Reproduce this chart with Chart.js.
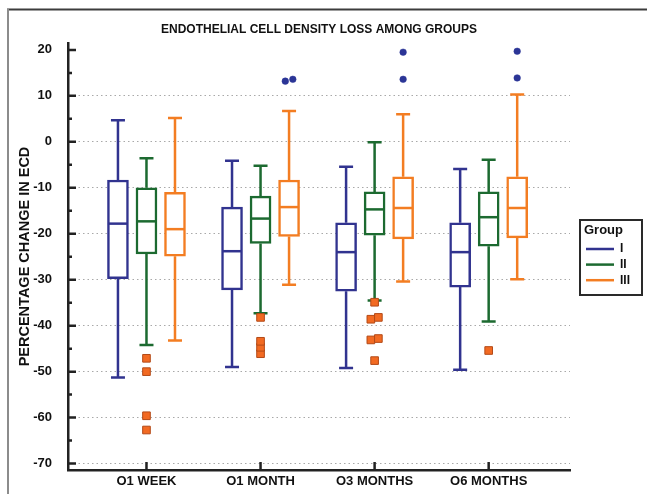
<!DOCTYPE html>
<html>
<head>
<meta charset="utf-8">
<script src="https://cdn.jsdelivr.net/npm/chart.js@4.4.1/dist/chart.umd.min.js"></script>
<style>
  html, body { margin: 0; padding: 0; background: #fff; }
  #wrap { width: 647px; height: 494px; position: relative; }
</style>
</head>
<body>
<div id="wrap"><canvas id="ecdChart"></canvas></div>
<script>
const categories = ['O1 WEEK', 'O1 MONTH', 'O3 MONTHS', 'O6 MONTHS'];
const groupNames = ['I', 'II', 'III'];
const groupColors = ['#31338f', '#1c6a30', '#f37d22'];

// each row: [min, q1, median, q3, max]
const groupI = [
    [-51.3, -29.8, -17.8, -8.3, 4.7],
    [-49.0, -32.2, -23.8, -14.2, -4.1],
    [-49.2, -32.5, -24.0, -17.6, -5.4],
    [-49.6, -31.6, -24.0, -17.6, -5.9]
];
const groupII = [
    [-44.2, -24.4, -17.3, -10.0, -3.6],
    [-37.3, -22.1, -16.7, -11.8, -5.2],
    [-34.5, -20.3, -14.7, -10.9, -0.1],
    [-39.1, -22.7, -16.4, -10.9, -3.9]
];
const groupIII = [
    [-43.2, -24.9, -19.0, -11.0, 5.2],
    [-31.1, -20.6, -14.2, -8.3, 6.7],
    [-30.4, -21.1, -14.4, -7.6, 6.0],
    [-29.9, -20.9, -14.4, -7.6, 10.3]
];

// outliers per category
const lowOutliersII = [
    [-47.1, -50.0, -59.6, -62.7],
    [-38.2, -43.4, -44.7, -46.1],
    [-34.9, -38.6, -38.2, -43.1, -42.8, -47.6],
    [-45.4]
];
const highOutliersIII = [
    [],
    [13.2, 13.6],
    [13.6, 19.5],
    [13.9, 19.7]
];

const yTicks = [-70, -60, -50, -40, -30, -20, -10, 0, 10, 20];
const yMin = -71.4, yMax = 21.5;

const groupOffsets = [-0.25, 0, 0.25];
const boxData = [groupI, groupII, groupIII];

// points that nearly coincide are put side by side
function dodge(values) {
    const sorted = [...values].sort((a, b) => a - b);
    const out = [];
    sorted.forEach(v => {
        const prev = out[out.length - 1];
        if (prev && prev.shift === 0 && Math.abs(v - prev.y) < 0.8) {
            prev.shift = -1;
            out.push({ y: v, shift: 1 });
        } else {
            out.push({ y: v, shift: 0 });
        }
    });
    return out;
}

function outlierPoints(list, g) {
    const pts = [];
    list.forEach((vals, i) => {
        dodge(vals).forEach(p => pts.push({ x: i + groupOffsets[g] + p.shift * 0.033, y: p.y }));
    });
    return pts;
}

const boxDatasets = boxData.map((rows, g) => ({
    type: 'bar',
    label: groupNames[g],
    data: rows.map((s, i) => ({ x: i + groupOffsets[g], y: [s[1], s[3]] })),
    backgroundColor: '#ffffff',
    borderColor: groupColors[g],
    borderWidth: 2.5,
    borderSkipped: false,
    barThickness: 21,
    grouped: false
}));

const boxExtras = {
    id: 'boxExtras',
    beforeDatasetsDraw(chart) {
        const { ctx, scales: { x, y } } = chart;
        ctx.save();
        ctx.lineWidth = 2.5;
        boxData.forEach((rows, g) => {
            ctx.strokeStyle = groupColors[g];
            rows.forEach((s, i) => {
                const cx = x.getPixelForValue(i + groupOffsets[g]);
                const yMn = y.getPixelForValue(s[0]);
                const yMx = y.getPixelForValue(s[4]);
                ctx.beginPath();
                ctx.moveTo(cx, y.getPixelForValue(s[3]));
                ctx.lineTo(cx, yMx);
                ctx.moveTo(cx - 7, yMx);
                ctx.lineTo(cx + 7, yMx);
                ctx.moveTo(cx, y.getPixelForValue(s[1]));
                ctx.lineTo(cx, yMn);
                ctx.moveTo(cx - 7, yMn);
                ctx.lineTo(cx + 7, yMn);
                ctx.stroke();
            });
        });
        ctx.restore();
    },
    afterDatasetsDraw(chart) {
        const { ctx, scales: { x, y } } = chart;
        ctx.save();
        ctx.lineWidth = 2.5;
        boxData.forEach((rows, g) => {
            ctx.strokeStyle = groupColors[g];
            rows.forEach((s, i) => {
                const cx = x.getPixelForValue(i + groupOffsets[g]);
                const my = y.getPixelForValue(s[2]);
                ctx.beginPath();
                ctx.moveTo(cx - 10, my);
                ctx.lineTo(cx + 10, my);
                ctx.stroke();
            });
        });
        ctx.restore();
    },
    afterDraw(chart) {
        const { ctx, chartArea, scales: { x, y } } = chart;
        ctx.save();
        // inward tick marks
        ctx.strokeStyle = '#222';
        ctx.lineWidth = 2.5;
        ctx.beginPath();
        yTicks.forEach(v => {
            const py = y.getPixelForValue(v);
            ctx.moveTo(chartArea.left, py);
            ctx.lineTo(chartArea.left + 8, py);
            if (v + 5 < yMax) {
                const pm = y.getPixelForValue(v + 5);
                ctx.moveTo(chartArea.left, pm);
                ctx.lineTo(chartArea.left + 4, pm);
            }
        });
        categories.forEach((c, i) => {
            const px = x.getPixelForValue(i);
            ctx.moveTo(px, chartArea.bottom);
            ctx.lineTo(px, chartArea.bottom - 8);
        });
        ctx.stroke();

        // frame of the figure
        ctx.lineWidth = 2;
        ctx.strokeStyle = '#3c3c3c';
        ctx.beginPath();
        ctx.moveTo(7, 9.5);
        ctx.lineTo(647, 9.5);
        ctx.stroke();
        ctx.strokeStyle = '#8c8c8c';
        ctx.beginPath();
        ctx.moveTo(8, 9);
        ctx.lineTo(8, 494);
        ctx.stroke();

        // legend
        const lx = 580, ly = 220, lw = 62, lh = 75;
        ctx.strokeStyle = '#2a2a2a';
        ctx.lineWidth = 2;
        ctx.strokeRect(lx, ly, lw, lh);
        ctx.fillStyle = '#111';
        ctx.textBaseline = 'middle';
        ctx.textAlign = 'left';
        ctx.font = 'bold 13px "Liberation Sans", Arial, sans-serif';
        ctx.fillText('Group', lx + 4, ly + 10);
        ctx.font = 'bold 12px "Liberation Sans", Arial, sans-serif';
        groupNames.forEach((name, g) => {
            const rowY = ly + 29 + g * 15.6;
            ctx.strokeStyle = groupColors[g];
            ctx.lineWidth = 2.5;
            ctx.beginPath();
            ctx.moveTo(lx + 6, rowY);
            ctx.lineTo(lx + 34, rowY);
            ctx.stroke();
            ctx.fillText(name, lx + 40, rowY);
        });
        ctx.restore();
    }
};

new Chart(document.getElementById('ecdChart'), {
    type: 'scatter',
    data: {
        datasets: [
            {
                label: 'low outliers',
                data: outlierPoints(lowOutliersII, 1),
                pointStyle: 'rect',
                pointRadius: 5.4,
                backgroundColor: '#f26a22',
                borderColor: '#b34a18',
                borderWidth: 1
            },
            {
                label: 'high outliers',
                data: outlierPoints(highOutliersIII, 2),
                pointStyle: 'circle',
                pointRadius: 3.3,
                backgroundColor: '#2b3596',
                borderColor: '#2b3596',
                borderWidth: 0.5
            },
            ...boxDatasets
        ]
    },
    options: {
        responsive: true,
        maintainAspectRatio: false,
        animation: false,
        events: [],
        layout: { padding: { left: 0, right: 77, top: 0, bottom: 0 } },
        plugins: {
            legend: { display: false },
            tooltip: { enabled: false },
            title: {
                display: true,
                fullSize: false,
                text: 'ENDOTHELIAL CELL DENSITY LOSS AMONG GROUPS',
                color: '#111',
                font: { family: '"Liberation Sans", Arial, sans-serif', size: 12, weight: 'bold' },
                padding: { top: 22, bottom: 6.6 }
            }
        },
        scales: {
            x: {
                type: 'linear',
                min: -0.688,
                max: 3.713,
                offset: false,
                afterFit: s => { s.height = 24; },
                afterBuildTicks: s => { s.ticks = categories.map((c, i) => ({ value: i })); },
                ticks: {
                    padding: 4,
                    color: '#111',
                    font: { family: '"Liberation Sans", Arial, sans-serif', size: 13, weight: 'bold' },
                    callback: v => categories[v]
                },
                grid: { display: false, drawTicks: false },
                border: { display: true, color: '#222', width: 2.5 }
            },
            y: {
                min: yMin,
                max: yMax,
                afterFit: s => { s.width = 68; },
                afterBuildTicks: s => { s.ticks = yTicks.map(v => ({ value: v })); },
                ticks: {
                    padding: 16,
                    color: '#111',
                    font: { family: '"Liberation Sans", Arial, sans-serif', size: 13, weight: 'bold' }
                },
                grid: {
                    drawTicks: false,
                    lineWidth: 1,
                    color: c => (c.tick && c.tick.value === 20) ? 'rgba(0,0,0,0)' : '#a9a9a9'
                },
                border: { display: true, color: '#222', width: 2.5, dash: [1.5, 3] },
                title: {
                    display: true,
                    text: 'PERCENTAGE CHANGE IN ECD',
                    color: '#111',
                    font: { family: '"Liberation Sans", Arial, sans-serif', size: 14.5, weight: 'bold' },
                    padding: { top: 16, bottom: 0 }
                }
            }
        }
    },
    plugins: [boxExtras]
});
</script>
</body>
</html>
